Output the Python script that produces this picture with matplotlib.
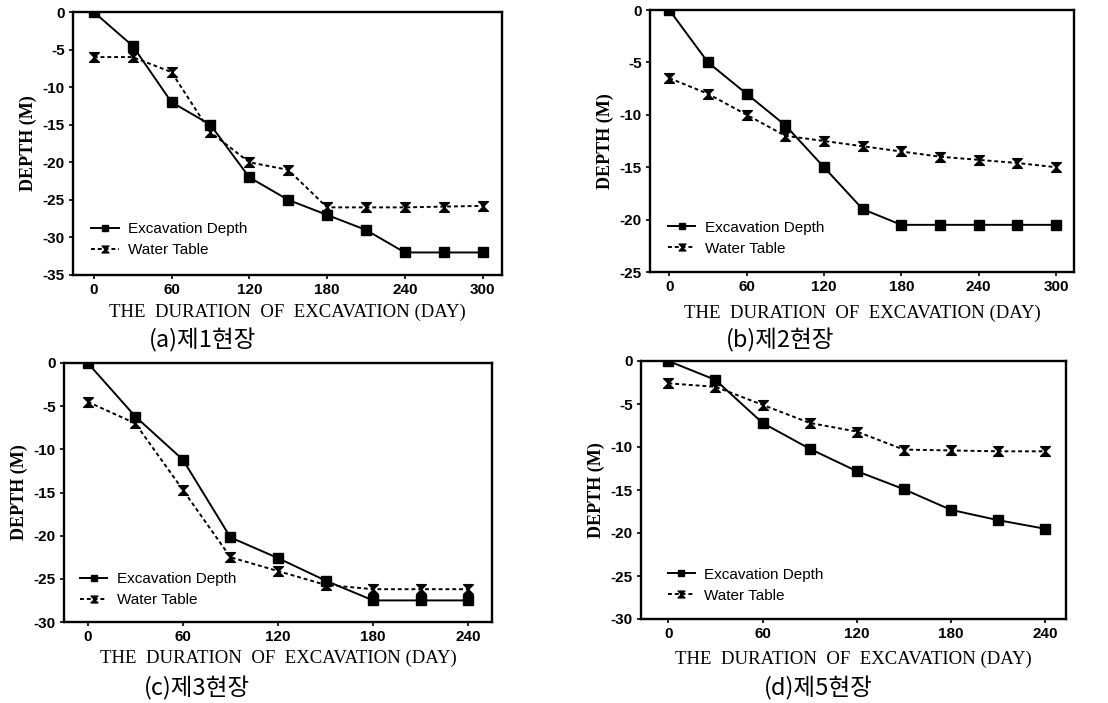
import numpy as np
import matplotlib.pyplot as plt
from matplotlib.path import Path

# ---- data ----
days_300 = [0, 30, 60, 90, 120, 150, 180, 210, 240, 270, 300]
days_240 = [0, 30, 60, 90, 120, 150, 180, 210, 240]

exc_a = [0, -4.5, -12, -15, -22, -25, -27, -29, -32, -32, -32]
wt_a = [-6, -6, -8, -16, -20, -21, -26, -26, -26, -25.9, -25.8]

exc_b = [0, -5, -8, -11, -15, -19, -20.5, -20.5, -20.5, -20.5, -20.5]
wt_b = [-6.5, -8, -10, -12, -12.5, -13, -13.5, -14, -14.3, -14.6, -15]

exc_c = [0, -6.2, -11.2, -20.2, -22.6, -25.2, -27.5, -27.5, -27.5]
wt_c = [-4.5, -7, -14.7, -22.5, -24.1, -25.7, -26.2, -26.2, -26.2]

exc_d = [0, -2.2, -7.2, -10.2, -12.8, -14.9, -17.3, -18.5, -19.5]
wt_d = [-2.6, -3, -5.1, -7.2, -8.2, -10.3, -10.4, -10.5, -10.5]

xticks_300 = [0, 60, 120, 180, 240, 300]
xticks_240 = [0, 60, 120, 180, 240]

captions = ['(a)제1현장', '(b)제2현장', '(c)제3현장', '(d)제5현장']

W, H = 1108, 703
fig = plt.figure(figsize=(W / 100, H / 100), dpi=100)

# hourglass marker for water table
hourglass = Path([(-1, 1), (1, 1), (-1, -1), (1, -1), (-1, 1)],
                 [Path.MOVETO, Path.LINETO, Path.LINETO, Path.LINETO, Path.CLOSEPOLY])

tick_font = dict(family='Liberation Sans', weight='bold', size=11)
serif = 'Liberation Serif'


def panel(px, x, exc, wt, xlim, ylim, yticks, xticks, legend_xy, xlabel_xy, cap_xy, cap):
    l, r, t, b = px
    ax = fig.add_axes([l / W, 1 - b / H, (r - l) / W, (b - t) / H])
    ax.plot(x, exc, '-', color='black', lw=1.4, marker='s', ms=7,
            label='Excavation Depth')
    ax.plot(x, wt, linestyle=(0, (2, 1.5)), color='black', lw=1.4,
            marker=hourglass, ms=7, label='Water Table')
    ax.set_xlim(*xlim)
    ax.set_ylim(*ylim)
    ax.set_xticks(xticks)
    ax.set_yticks(yticks)
    ax.set_xticklabels([str(v) for v in xticks], fontdict=tick_font)
    ax.set_yticklabels([str(v) for v in yticks], fontdict=tick_font)
    ax.tick_params(direction='out', length=3, width=1.2, pad=3)
    for s in ax.spines.values():
        s.set_linewidth(1.7)
    ax.set_ylabel('DEPTH (M)', family=serif, weight='bold', size=13, labelpad=4)
    ax.legend(loc='lower left', bbox_to_anchor=legend_xy, frameon=False,
              prop=dict(family='Liberation Sans', size=11),
              handlelength=1.8, handletextpad=0.6, labelspacing=0.45,
              markerscale=0.7)
    fig.text(xlabel_xy[0] / W, 1 - xlabel_xy[1] / H,
             'THE  DURATION  OF  EXCAVATION (DAY)', family=serif,
             size=13.5, ha='center', va='center')
    fig.text(cap_xy[0] / W, 1 - cap_xy[1] / H, cap,
             family=['Noto Sans CJK KR', 'DejaVu Sans'], size=17,
             ha='center', va='center')
    return ax


panel((73, 502, 12, 275), days_300, exc_a, wt_a, (-16, 315), (-35, 0),
      [0, -5, -10, -15, -20, -25, -30, -35], xticks_300,
      (0.01, 0.015), (287, 312), (203, 340), captions[0])
panel((650, 1074, 10, 272), days_300, exc_b, wt_b, (-15, 314), (-25, 0),
      [0, -5, -10, -15, -20, -25], xticks_300,
      (0.01, 0.01), (862, 313), (780, 340), captions[1])
panel((64, 492, 363, 622), days_240, exc_c, wt_c, (-15, 255), (-30, 0),
      [0, -5, -10, -15, -20, -25, -30], xticks_240,
      (0.005, 0.005), (278, 658), (197, 688), captions[2])
panel((641, 1066, 361, 619), days_240, exc_d, wt_d, (-17.5, 253.5), (-30, 0),
      [0, -5, -10, -15, -20, -25, -30], xticks_240,
      (0.03, 0.01), (853, 659), (818, 688), captions[3])

fig.savefig('out.png', dpi=100)
